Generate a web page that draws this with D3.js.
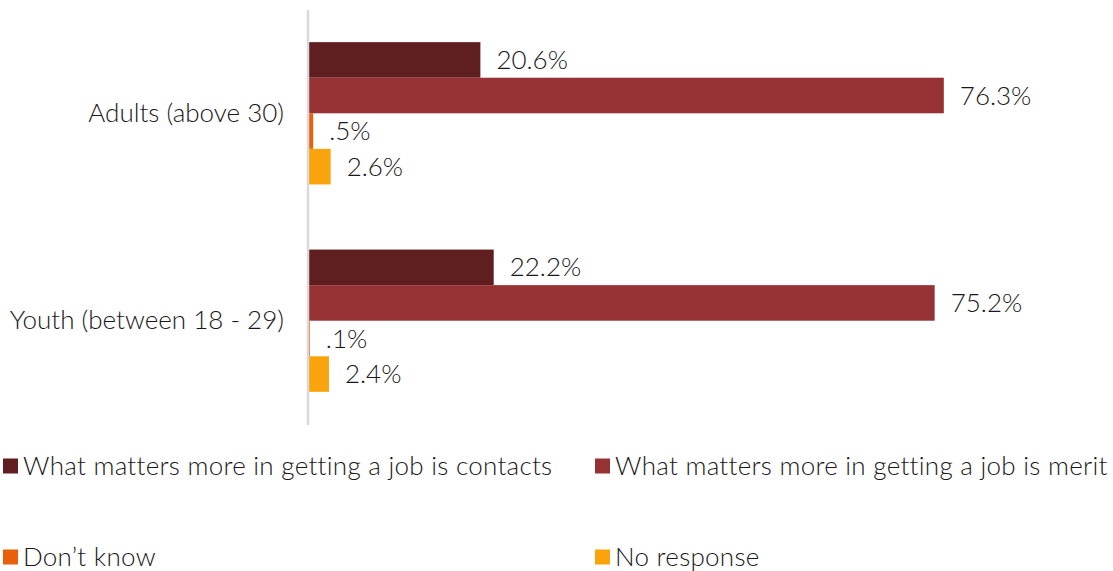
<!DOCTYPE html>
<html>
<head>
<meta charset="utf-8">
<script src="https://cdn.jsdelivr.net/npm/d3@7"></script>
<style>
  html, body { margin: 0; padding: 0; background: #fff; }
  svg { display: block; }
  text { font-family: Lato, "Open Sans", sans-serif; font-weight: 300; fill: #1a1718; }
</style>
</head>
<body>
<svg id="chart" width="1113" height="571"></svg>
<script>
// Survey groups, top to bottom
const categories = ["Adults (above 30)", "Youth (between 18 - 29)"];

// Response options, in bar order within each group
const seriesNames = [
  "What matters more in getting a job is contacts",
  "What matters more in getting a job is merit",
  "Don\u2019t know",
  "No response"
];

// Shares (%) per group, one array per response option
const contacts   = [20.6, 22.2];
const merit      = [76.3, 75.2];
const dontKnow   = [0.5, 0.1];
const noResponse = [2.6, 2.4];

// Value labels as printed beside each bar
const labelsContacts   = ["20.6%", "22.2%"];
const labelsMerit      = ["76.3%", "75.2%"];
const labelsDontKnow   = [".5%", ".1%"];
const labelsNoResponse = ["2.6%", "2.4%"];

const colors = ["#5f1f20", "#973234", "#e8600a", "#f9a40c"];

const seriesValues = [contacts, merit, dontKnow, noResponse];
const seriesLabels = [labelsContacts, labelsMerit, labelsDontKnow, labelsNoResponse];

const rows = [];
categories.forEach((c, ci) => {
  seriesNames.forEach((s, si) => {
    rows.push({ cat: c, series: s, si, value: seriesValues[si][ci], label: seriesLabels[si][ci] });
  });
});

const svg = d3.select("#chart");
const x0 = 309;
const fontSize = 26;

const x = d3.scaleLinear().domain([0, 100]).range([x0, x0 + 832]);
const y = d3.scaleBand().domain(categories).range([10, 424])
  .paddingInner(0.314).paddingOuter(0.155);
const ySub = d3.scaleBand().domain(seriesNames).range([0, y.bandwidth()]);
const color = d3.scaleOrdinal().domain(seriesNames).range(colors);

// Bars
const g = svg.append("g");
g.selectAll("rect.bar")
  .data(rows)
  .join("rect")
  .attr("class", "bar")
  .attr("x", x(0))
  .attr("y", d => y(d.cat) + ySub(d.series))
  .attr("width", d => x(d.value) - x(0))
  .attr("height", ySub.bandwidth())
  .attr("fill", d => color(d.series));

// Value labels
g.selectAll("text.val")
  .data(rows)
  .join("text")
  .attr("class", "val")
  .attr("x", d => x(d.value) + 16)
  .attr("y", d => y(d.cat) + ySub(d.series) + ySub.bandwidth() / 2)
  .attr("dy", "0.35em")
  .attr("font-size", fontSize)
  .text(d => d.label);

// Category axis
const axis = svg.append("g")
  .attr("transform", `translate(${x0 - 1},0)`)
  .call(d3.axisLeft(y).tickSize(0).tickPadding(24));
axis.select(".domain")
  .attr("d", `M0,10V425`)
  .attr("stroke", "#d9d9d9")
  .attr("stroke-width", 2.5);
axis.selectAll(".tick text")
  .attr("font-size", fontSize)
  .attr("font-family", "Lato, 'Open Sans', sans-serif")
  .attr("font-weight", 300)
  .attr("fill", "#1a1718");

// Legend: two columns, two rows
const legendPos = [
  { x: 3, y: 466 }, { x: 595, y: 466 },
  { x: 3, y: 557 }, { x: 595, y: 557 }
];
const legend = svg.append("g")
  .selectAll("g")
  .data(seriesNames)
  .join("g")
  .attr("transform", (d, i) => `translate(${legendPos[i].x},${legendPos[i].y})`);
legend.append("rect")
  .attr("x", 0).attr("y", -7.5)
  .attr("width", 15).attr("height", 15)
  .attr("fill", d => color(d));
legend.append("text")
  .attr("x", 20)
  .attr("dy", "0.35em")
  .attr("font-size", fontSize)
  .attr("letter-spacing", 0.27)
  .text(d => d);
</script>
</body>
</html>
